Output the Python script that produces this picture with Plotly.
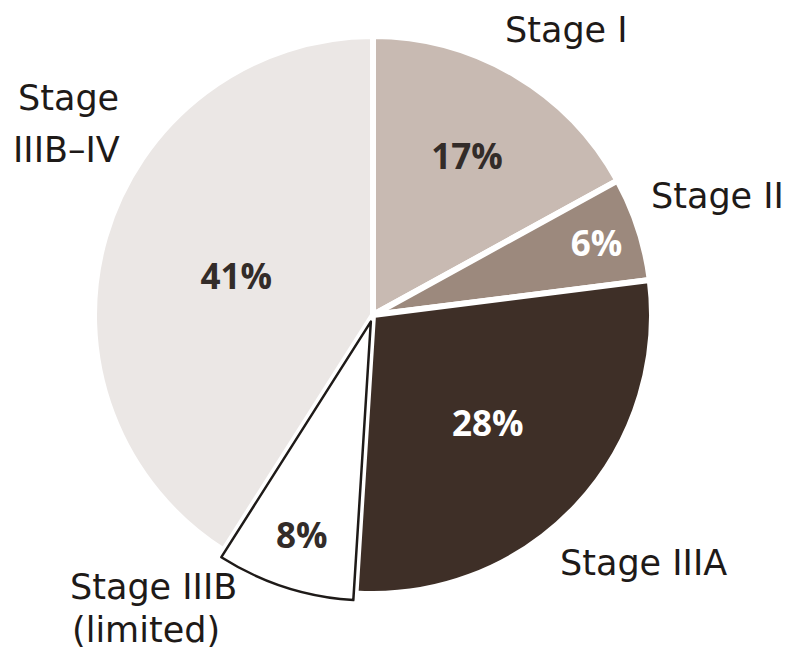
import plotly.graph_objects as go

# slice data, clockwise; list starts with the big slice so that
# the outlined white slice is drawn last
stages = ["Stage IIIB–IV", "Stage I", "Stage II", "Stage IIIA", "Stage IIIB (limited)"]
shares = [41, 17, 6, 28, 8]
slice_colors = ["#ebe7e5", "#c8bab2", "#9c897d", "#3e2f27", "#ffffff"]
text_colors = ["#332c29", "#332c29", "#ffffff", "#ffffff", "#332c29"]
edge_colors = ["#ffffff", "#ffffff", "#ffffff", "#ffffff", "#1e1a18"]
edge_widths = [6, 6, 6, 6, 2.5]
pulls = [0, 0, 0, 0, 0.025]

# outside label lines as printed (one entry per line)
label_lines = ["Stage I", "Stage II", "Stage IIIA", "Stage IIIB", "(limited)", "Stage", "IIIB–IV"]
label_x = [566, 717, 643, 153, 146, 68, 66]
label_y = [32, 198, 565, 589, 632, 100, 152]

PAD = 8  # page body margin around the plot
W, H = 792 - 2 * PAD, 661 - 2 * PAD
cx, cy, r = 373 - PAD, 315 - PAD, 279
rd = r * (1 + max(pulls))

fig = go.Figure(go.Pie(
    labels=stages,
    values=shares,
    sort=False,
    direction="clockwise",
    rotation=360 * (1 - shares[0] / sum(shares)),
    pull=pulls,
    marker=dict(colors=slice_colors, line=dict(color=edge_colors, width=edge_widths)),
    texttemplate="<b>%{value}%</b>",
    textposition="inside",
    insidetextorientation="horizontal",
    insidetextfont=dict(family="Open Sans", size=35, color=text_colors),
    showlegend=False,
    hoverinfo="label+percent",
    domain=dict(x=[(cx - rd) / W, (cx + rd) / W], y=[(H - cy - rd) / H, (H - cy + rd) / H]),
))

for t, x, y in zip(label_lines, label_x, label_y):
    fig.add_annotation(
        text=t, x=(x - PAD) / W, y=1 - (y - PAD - 2) / H, xref="paper", yref="paper",
        showarrow=False, xanchor="center", yanchor="middle",
        font=dict(family="DejaVu Sans", size=35, color="#1e1a18"),
    )

fig.update_layout(
    width=W, height=H,
    margin=dict(l=0, r=0, t=0, b=0),
    paper_bgcolor="white",
    plot_bgcolor="white",
)
fig.write_html("out.html")
